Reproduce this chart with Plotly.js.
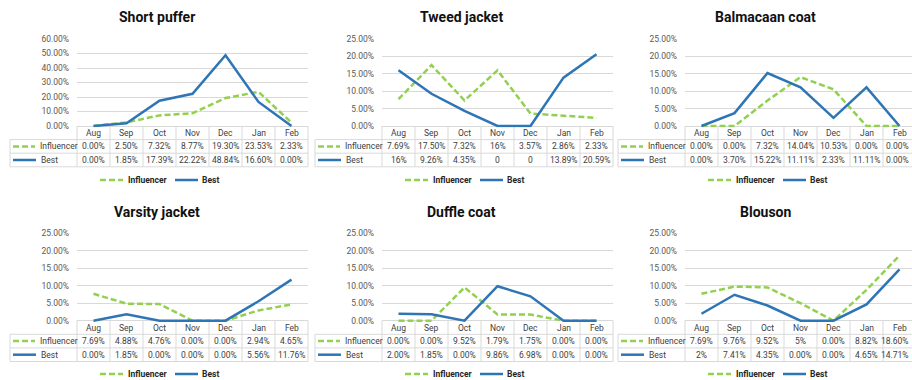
<!DOCTYPE html>
<html><head><meta charset="utf-8">
<script src="https://cdn.plot.ly/plotly-3.0.1.min.js"></script>
<style>html,body{margin:0;padding:0;background:#fff}#chart{width:912px;height:380px}</style>
</head><body><div id="chart"></div>
<script>
const months = ['Aug','Sep','Oct','Nov','Dec','Jan','Feb'];
const seriesNames = ['Influencer','Best'];
const panelTitles = ['Short puffer','Tweed jacket','Balmacaan coat','Varsity jacket','Duffle coat','Blouson'];
const panelMax = [60, 25, 25, 25, 25, 25];
const panelStep = [10, 5, 5, 5, 5, 5];

// values in percent
const shortPufferInfluencer = [0.00, 2.50, 7.32, 8.77, 19.30, 23.53, 2.33];
const shortPufferBest = [0.00, 1.85, 17.39, 22.22, 48.84, 16.60, 0.00];
const tweedJacketInfluencer = [7.69, 17.50, 7.32, 16, 3.57, 2.86, 2.33];
const tweedJacketBest = [16, 9.26, 4.35, 0, 0, 13.89, 20.59];
const balmacaanCoatInfluencer = [0.00, 0.00, 7.32, 14.04, 10.53, 0.00, 0.00];
const balmacaanCoatBest = [0.00, 3.70, 15.22, 11.11, 2.33, 11.11, 0.00];
const varsityJacketInfluencer = [7.69, 4.88, 4.76, 0.00, 0.00, 2.94, 4.65];
const varsityJacketBest = [0.00, 1.85, 0.00, 0.00, 0.00, 5.56, 11.76];
const duffleCoatInfluencer = [0.00, 0.00, 9.52, 1.79, 1.75, 0.00, 0.00];
const duffleCoatBest = [2.00, 1.85, 0.00, 9.86, 6.98, 0.00, 0.00];
const blousonInfluencer = [7.69, 9.76, 9.52, 5, 0.00, 8.82, 18.60];
const blousonBest = [2, 7.41, 4.35, 0.00, 0.00, 4.65, 14.71];

// data-table cell labels, as printed
const shortPufferInfluencerLabels = ['0.00%','2.50%','7.32%','8.77%','19.30%','23.53%','2.33%'];
const shortPufferBestLabels = ['0.00%','1.85%','17.39%','22.22%','48.84%','16.60%','0.00%'];
const tweedJacketInfluencerLabels = ['7.69%','17.50%','7.32%','16%','3.57%','2.86%','2.33%'];
const tweedJacketBestLabels = ['16%','9.26%','4.35%','0','0','13.89%','20.59%'];
const balmacaanCoatInfluencerLabels = ['0.00%','0.00%','7.32%','14.04%','10.53%','0.00%','0.00%'];
const balmacaanCoatBestLabels = ['0.00%','3.70%','15.22%','11.11%','2.33%','11.11%','0.00%'];
const varsityJacketInfluencerLabels = ['7.69%','4.88%','4.76%','0.00%','0.00%','2.94%','4.65%'];
const varsityJacketBestLabels = ['0.00%','1.85%','0.00%','0.00%','0.00%','5.56%','11.76%'];
const duffleCoatInfluencerLabels = ['0.00%','0.00%','9.52%','1.79%','1.75%','0.00%','0.00%'];
const duffleCoatBestLabels = ['2.00%','1.85%','0.00%','9.86%','6.98%','0.00%','0.00%'];
const blousonInfluencerLabels = ['7.69%','9.76%','9.52%','5%','0.00%','8.82%','18.60%'];
const blousonBestLabels = ['2%','7.41%','4.35%','0.00%','0.00%','4.65%','14.71%'];

const influencerSeries = [shortPufferInfluencer, tweedJacketInfluencer, balmacaanCoatInfluencer, varsityJacketInfluencer, duffleCoatInfluencer, blousonInfluencer];
const bestSeries = [shortPufferBest, tweedJacketBest, balmacaanCoatBest, varsityJacketBest, duffleCoatBest, blousonBest];
const influencerLabels = [shortPufferInfluencerLabels, tweedJacketInfluencerLabels, balmacaanCoatInfluencerLabels, varsityJacketInfluencerLabels, duffleCoatInfluencerLabels, blousonInfluencerLabels];
const bestLabels = [shortPufferBestLabels, tweedJacketBestLabels, balmacaanCoatBestLabels, varsityJacketBestLabels, duffleCoatBestLabels, blousonBestLabels];

// ---- layout geometry (pixels) ----
const W = 912, H = 380;
const FONT = 'Roboto, Open Sans, sans-serif';
const GREEN = '#92D050', BLUE = '#2E75B6', GRID = '#d9d9d9', TXT = '#404040';
const DASH = '6px,3px';
const FS = 8.5;
const colLeft = [77, 382, 685];
const cellW = 33, labelW = 67;
const rowTop = [39, 233.3], rowBottom = [126, 320.7];
const rowH = 13.6, pad = 1.5;
const titleY = [17, 212], legendY = [180, 374];
const fx = p => p / W, fy = p => 1 - p / H;

const data = [], shapes = [], annotations = [];
const layout = {
  width: W, height: H, margin: {l:0, r:0, t:0, b:0},
  paper_bgcolor: '#fff', plot_bgcolor: 'rgba(0,0,0,0)',
  font: {family: FONT, color: TXT, size: FS},
  showlegend: false, shapes, annotations
};
const tableFont = {family: FONT, size: FS, color: TXT};

for (let i = 0; i < 6; i++) {
  const r = Math.floor(i / 3), c = i % 3;
  const n = i + 1, sfx = n === 1 ? '' : String(n);
  const xL = colLeft[c], xRfull = xL + months.length * cellW;
  const xR = Math.min(W, xRfull);
  const clipped = xRfull > W;
  const plotH = rowBottom[r] - rowTop[r];
  const ymax = panelMax[i] / 100;
  layout['xaxis' + sfx] = {
    domain: [fx(xL), fx(xR)], range: [-0.5, -0.5 + (xR - xL) / cellW],
    type: 'category', anchor: 'y' + sfx, showgrid: false, zeroline: false,
    showline: false, showticklabels: false, ticks: '', fixedrange: true
  };
  layout['yaxis' + sfx] = {
    domain: [fy(rowBottom[r] + pad), fy(rowTop[r])],
    range: [-ymax * pad / plotH, ymax], anchor: 'x' + sfx,
    tickvals: Array.from({length: Math.round(panelMax[i] / panelStep[i]) + 1}, (_, k) => k * panelStep[i] / 100),
    tickformat: '.2%', showgrid: true, gridcolor: GRID, gridwidth: 1, zeroline: false,
    showline: false, ticks: '', ticklabelstandoff: 7,
    tickfont: {family: FONT, size: FS, color: '#595959'}, fixedrange: true
  };
  data.push({
    type: 'scatter', mode: 'lines', name: seriesNames[0], x: months,
    y: influencerSeries[i].map(v => v / 100), xaxis: 'x' + sfx, yaxis: 'y' + sfx,
    line: {color: GREEN, width: 2.5, dash: DASH}, hoverinfo: 'skip'
  });
  data.push({
    type: 'scatter', mode: 'lines', name: seriesNames[1], x: months,
    y: bestSeries[i].map(v => v / 100), xaxis: 'x' + sfx, yaxis: 'y' + sfx,
    line: {color: BLUE, width: 2.5}, hoverinfo: 'skip'
  });

  const labelL = xL - labelW;
  const centerX = labelL + (labelW + months.length * cellW) / 2 - 2;

  // title
  annotations.push({
    text: panelTitles[i], xref: 'paper', yref: 'paper',
    x: fx(centerX), y: fy(titleY[r]),
    xanchor: 'center', yanchor: 'middle', showarrow: false,
    font: {family: FONT, size: 14, color: '#111', weight: 'bold'}
  });

  // legend below the table
  const lgY = legendY[r], lgL = xL + 23;
  shapes.push({type: 'line', xref: 'paper', yref: 'paper', x0: fx(lgL), x1: fx(lgL + 23), y0: fy(lgY), y1: fy(lgY), line: {color: GREEN, width: 2.5, dash: DASH}});
  shapes.push({type: 'line', xref: 'paper', yref: 'paper', x0: fx(lgL + 75), x1: fx(lgL + 98), y0: fy(lgY), y1: fy(lgY), line: {color: BLUE, width: 2.5}});
  annotations.push({text: seriesNames[0], xref: 'paper', yref: 'paper', x: fx(lgL + 26), y: fy(lgY), xanchor: 'left', yanchor: 'middle', showarrow: false, font: {family: FONT, size: FS, color: '#262626', weight: 'bold'}});
  annotations.push({text: seriesNames[1], xref: 'paper', yref: 'paper', x: fx(lgL + 100), y: fy(lgY), xanchor: 'left', yanchor: 'middle', showarrow: false, font: {family: FONT, size: FS, color: '#262626', weight: 'bold'}});

  // data table
  const t0 = rowBottom[r];
  const lineStyle = {color: GRID, width: 1};
  for (let k = 0; k <= months.length; k++) {
    const xx = xL + k * cellW;
    if (xx > W + 1) continue;
    shapes.push({type: 'line', xref: 'paper', yref: 'paper', x0: fx(xx), x1: fx(xx), y0: fy(t0), y1: fy(t0 + 3 * rowH), line: lineStyle, layer: 'below'});
  }
  shapes.push({type: 'line', xref: 'paper', yref: 'paper', x0: fx(labelL), x1: fx(labelL), y0: fy(t0 + rowH), y1: fy(t0 + 3 * rowH), line: lineStyle, layer: 'below'});
  for (let k = 1; k <= 3; k++) {
    shapes.push({type: 'line', xref: 'paper', yref: 'paper', x0: fx(labelL), x1: fx(xR), y0: fy(t0 + k * rowH), y1: fy(t0 + k * rowH), line: lineStyle, layer: 'below'});
  }
  const keyY1 = t0 + 1.5 * rowH, keyY2 = t0 + 2.5 * rowH;
  shapes.push({type: 'line', xref: 'paper', yref: 'paper', x0: fx(labelL + 3), x1: fx(labelL + 25), y0: fy(keyY1), y1: fy(keyY1), line: {color: GREEN, width: 2.5, dash: DASH}});
  shapes.push({type: 'line', xref: 'paper', yref: 'paper', x0: fx(labelL + 3), x1: fx(labelL + 26), y0: fy(keyY2), y1: fy(keyY2), line: {color: BLUE, width: 2.5}});
  annotations.push({text: seriesNames[0], xref: 'paper', yref: 'paper', x: fx(labelL + 28), y: fy(keyY1), xanchor: 'left', yanchor: 'middle', showarrow: false, font: tableFont});
  annotations.push({text: seriesNames[1], xref: 'paper', yref: 'paper', x: fx(labelL + 29), y: fy(keyY2), xanchor: 'left', yanchor: 'middle', showarrow: false, font: tableFont});
  months.forEach((m, k) => {
    const atEdge = clipped && k === months.length - 1;
    const cell = (text, yy) => atEdge
      ? {text, xref: 'paper', yref: 'paper', x: fx(W - 1), y: fy(yy), xanchor: 'right', yanchor: 'middle', showarrow: false, font: tableFont}
      : {text, xref: 'x' + sfx, yref: 'paper', x: k, y: fy(yy), xanchor: 'center', yanchor: 'middle', showarrow: false, font: tableFont};
    annotations.push({text: m, xref: 'x' + sfx, yref: 'paper', x: k, y: fy(t0 + 0.5 * rowH), xanchor: 'center', yanchor: 'middle', showarrow: false, font: tableFont});
    annotations.push(cell(influencerLabels[i][k], keyY1));
    annotations.push(cell(bestLabels[i][k], keyY2));
  });
}

Plotly.newPlot('chart', data, layout, {displayModeBar: false, staticPlot: true});
</script>
</body></html>
